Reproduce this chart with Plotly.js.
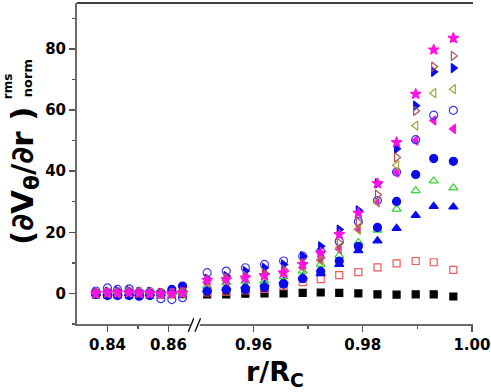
<!DOCTYPE html>
<html>
<head>
<meta charset="utf-8">
<script src="https://cdn.plot.ly/plotly-3.0.1.min.js"></script>
<style>
  html, body { margin: 0; padding: 0; background: #fff; }
  #plot { width: 491px; height: 392px; }
</style>
</head>
<body>
<div id="plot"></div>
<script>
// r/Rc positions, left part of the broken axis and right part
const xLeft = [0.8362, 0.84, 0.8433, 0.8471, 0.8504, 0.8539, 0.8575, 0.8611, 0.8646];
const xRight = [0.9515, 0.955, 0.9585, 0.962, 0.9655, 0.969, 0.9723, 0.9757, 0.9792, 0.9827, 0.9862, 0.9897, 0.993, 0.9966];

// each series: values on the left part, then on the right part
const blackSquareL = [-0.3, -0.3, -0.3, -0.3, -0.3, -0.3, -0.2, -0.2, -0.2];
const blackSquareR = [-0.3, -0.3, -0.1, 0, 0, 0.2, 0.3, 0.2, 0, -0.3, -0.4, -0.3, -0.3, -1.0];
const redSquareL = [0, 0.3, 0.2, 0.1, 0, -0.1, -0.3, -0.2, 0];
const redSquareR = [0.3, 0.6, 1.0, 1.5, 2.4, 3.7, 4.7, 6.0, 7.0, 8.5, 9.8, 10.6, 10.2, 7.7];
const blueUpL = [0, 0, 0, 0, 0, 0, 0, 0.4, 0.6];
const blueUpR = [1.2, 1.8, 2.4, 3.0, 4.0, 5.5, 6.5, 9.5, 14.0, 17.2, 21.3, 25.5, 28.5, 28.3];
const greenUpL = [0.3, 0.5, 0.5, 0.8, 0.8, 0.8, 0.2, 0.3, 0.5];
const greenUpR = [2.4, 3.5, 4.0, 4.0, 5.5, 7.3, 9.5, 12.4, 16.7, 20.7, 27.6, 33.6, 36.8, 34.5];
const blueDotL = [-0.3, -0.7, -0.7, -0.7, -0.9, -0.7, 0.2, 1.3, 2.4];
const blueDotR = [0.8, 1.3, 1.3, 1.9, 3.0, 4.8, 7.2, 10.6, 15.4, 21.6, 30.1, 38.9, 44.1, 43.2];
const magLeftL = [0, 0.2, 0.1, 0.3, 0.1, 0.1, -0.2, 0, 0.3];
const magLeftR = [3.5, 4.2, 5.0, 5.8, 6.7, 8.5, 11.0, 14.5, 21.0, 29.8, 39.6, 50.0, 56.6, 53.8];
const blueRingL = [0.8, 1.8, 1.3, 1.5, 0.3, 0.5, -1.7, -2.0, -1.4];
const blueRingR = [6.8, 7.3, 8.4, 9.5, 10.6, 12.2, 13.8, 17.0, 23.5, 30.4, 39.7, 50.3, 58.3, 59.9];
const oliveLeftL = [0.2, 0.3, 0.4, 0.4, 0.5, 0.4, 0.2, 0.1, 0.3];
const oliveLeftR = [3.8, 4.5, 5.3, 6.1, 7.0, 8.6, 10.8, 14.9, 20.9, 29.9, 41.9, 54.9, 65.5, 66.8];
const blueRightL = [0.3, 0.6, 0.8, 0.8, 0.5, 0.5, 0.2, 0.4, 0.6];
const blueRightR = [4.8, 5.7, 7.3, 8.4, 9.5, 12.2, 15.4, 20.9, 27.2, 36.0, 47.3, 61.4, 72.5, 73.7];
const brownRightL = [0.1, 0.3, 0.3, 0.5, 0.2, 0.2, 0, 0.1, 0.4];
const brownRightR = [4.2, 5.0, 5.8, 6.6, 7.8, 9.8, 11.7, 16.5, 23.3, 32.3, 44.5, 59.7, 74.2, 77.7];
const starL = [0, 0.2, 0.2, 0.3, 0.2, 0.1, -0.1, 0, 0.2];
const starR = [4.4, 4.6, 5.1, 5.9, 6.8, 9.5, 13.3, 19.3, 26.3, 36.0, 49.4, 65.2, 79.7, 83.5];

const series = [
    [blackSquareL, blackSquareR, 'square', '#000000', 7],
    [redSquareL, redSquareR, 'square-open', '#f05a5a', 7],
    [blueUpL, blueUpR, 'triangle-up', '#0a0af0', 8],
    [greenUpL, greenUpR, 'triangle-up-open', '#33d633', 8],
    [blueDotL, blueDotR, 'circle', '#0a0af0', 8],
    [magLeftL, magLeftR, 'triangle-left', '#ff10e0', 8],
    [blueRingL, blueRingR, 'circle-open', '#3838f0', 8],
    [oliveLeftL, oliveLeftR, 'triangle-left-open', '#a4a438', 8],
    [blueRightL, blueRightR, 'triangle-right', '#0a0af0', 8],
    [brownRightL, brownRightR, 'triangle-right-open', '#b05050', 8],
    [starL, starR, 'star', '#ff10e0', 8],
];

const data = [];
series.forEach(([yl, yr, symbol, color, size]) => {
    const marker = {symbol, color, size, line: {color, width: 1.2}};
    data.push({x: xLeft, y: yl, xaxis: 'x', yaxis: 'y', mode: 'markers', type: 'scatter', marker, showlegend: false});
    data.push({x: xRight, y: yr, xaxis: 'x2', yaxis: 'y', mode: 'markers', type: 'scatter', marker, showlegend: false});
});

const tickFont = {family: 'DejaVu Sans', size: 15, color: '#000', weight: 'bold'};
const axisLine = {showline: true, linecolor: '#6a6a6a', linewidth: 2, ticks: 'outside', ticklen: 6,
    tickcolor: '#555', tickwidth: 1.5, showgrid: false, zeroline: false, tickfont: tickFont};
const split = 0.308;

const layout = {
    width: 491,
    height: 392,
    margin: {l: 77, r: 18, t: 3, b: 68},
    paper_bgcolor: '#fff',
    plot_bgcolor: '#fff',
    xaxis: Object.assign({}, axisLine, {
        domain: [0, split], range: [0.83, 0.87], anchor: 'y',
        tickvals: [0.84, 0.86], ticktext: ['0.84', '0.86'],
        minor: {tickvals: [0.85], ticks: 'outside', ticklen: 3, tickcolor: '#555'},
    }),
    xaxis2: Object.assign({}, axisLine, {
        domain: [split, 1], range: [0.95, 1.0002], anchor: 'y',
        tickvals: [0.96, 0.98, 1.0], ticktext: ['0.96', '0.98', '1.00'],
        minor: {tickvals: [0.97, 0.99], ticks: 'outside', ticklen: 3, tickcolor: '#555'},
    }),
    yaxis: Object.assign({}, axisLine, {
        range: [-10, 95], anchor: 'x',
        tickvals: [0, 20, 40, 60, 80],
        minor: {dtick: 10, ticks: 'outside', ticklen: 3, tickcolor: '#555'},
    }),
    yaxis2: Object.assign({}, axisLine, {
        range: [-10, 95], overlaying: 'y', side: 'right', anchor: 'x2',
        ticks: 'inside', showticklabels: false,
        tickvals: [0, 20, 40, 60, 80],
        minor: {dtick: 10, ticks: 'inside', ticklen: 3, tickcolor: '#555'},
    }),
    shapes: [
        {type: 'line', xref: 'paper', yref: 'paper', x0: 0, x1: 1, y0: 1, y1: 1, line: {color: '#000', width: 1.5}},
        {type: 'rect', xref: 'paper', yref: 'paper', x0: 0.285, x1: 0.31, y0: -0.012, y1: 0.012,
            fillcolor: '#fff', line: {width: 0}},
        {type: 'line', xref: 'paper', yref: 'paper', x0: 0.281, x1: 0.295, y0: -0.024, y1: 0.018, line: {color: '#000', width: 1.3}},
        {type: 'line', xref: 'paper', yref: 'paper', x0: 0.298, x1: 0.312, y0: -0.024, y1: 0.018, line: {color: '#000', width: 1.3}},
    ],
    annotations: [
        {xref: 'paper', yref: 'paper', x: 0.5, y: -0.153, xanchor: 'center', yanchor: 'middle', showarrow: false,
            text: 'r/R<sub>C</sub>', font: {family: 'DejaVu Sans', size: 27, color: '#000', weight: 'bold'}},
        {xref: 'paper', yref: 'paper', x: -0.134, y: 0.461, xanchor: 'center', yanchor: 'middle', showarrow: false,
            textangle: -90, text: '(∂V<sub>θ</sub>/∂r )',
            font: {family: 'DejaVu Sans', size: 31, color: '#000', weight: 'bold'}},
        {xref: 'paper', yref: 'paper', x: -0.174, y: 0.741, xanchor: 'center', yanchor: 'middle', showarrow: false,
            textangle: -90, text: 'rms', font: {family: 'DejaVu Sans', size: 12, color: '#000', weight: 'bold'}},
        {xref: 'paper', yref: 'paper', x: -0.126, y: 0.766, xanchor: 'center', yanchor: 'middle', showarrow: false,
            textangle: -90, text: 'norm', font: {family: 'DejaVu Sans', size: 13, color: '#000', weight: 'bold'}},
    ],
};

Plotly.newPlot('plot', data, layout, {displayModeBar: false, staticPlot: true});
</script>
</body>
</html>
